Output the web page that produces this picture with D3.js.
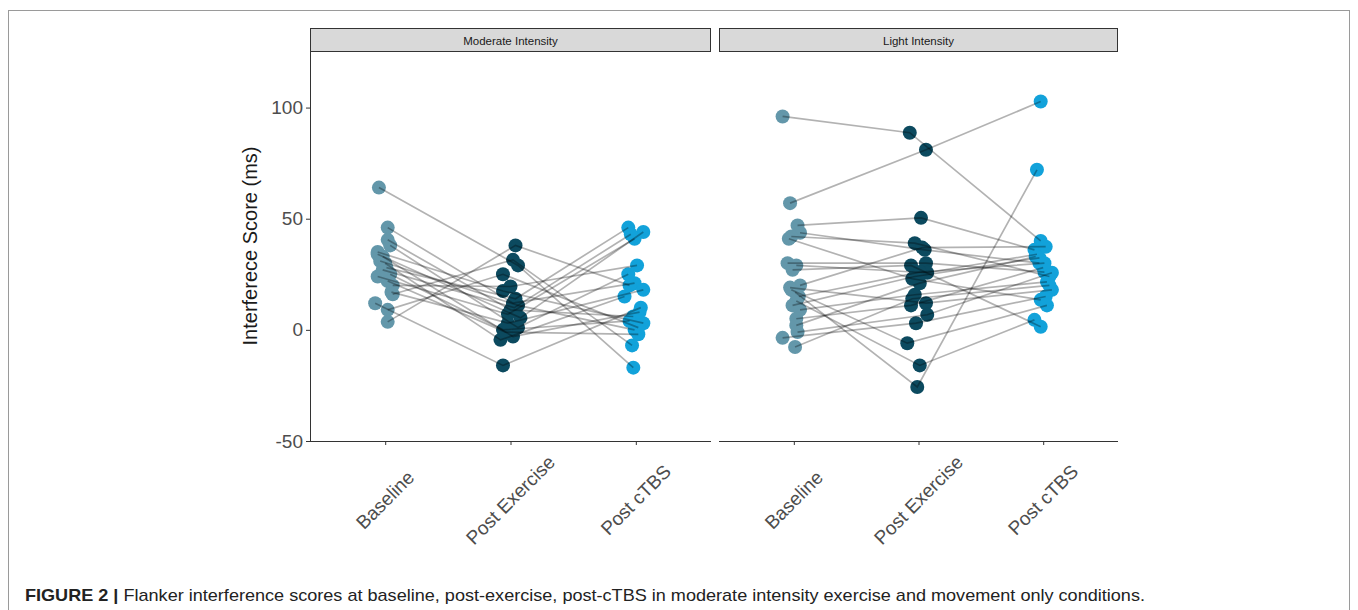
<!DOCTYPE html>
<html><head><meta charset="utf-8">
<script src="https://cdn.jsdelivr.net/npm/d3@7"></script>
<style>body{margin:0;background:#fff;}svg{display:block;}</style>
</head><body>
<svg id="chart" width="1358" height="610"></svg>
<script>
const panels = ["Moderate Intensity", "Light Intensity"];
const timepoints = ["Baseline", "Post Exercise", "Post cTBS"];
const yTicks = [-50, 0, 50, 100];

// Moderate intensity: one entry per participant
const modBaseline = [64, 46, 40.5, 38, 35, 34, 33, 31, 30, 28, 25, 24, 22, 20, 17, 16, 12, 9, 3.6, 27];
const modPostEx   = [29, 12, 9, 1, 17.5, 5.4, -3, 11, -4.5, 14, 0, 7, -1, 19.5, 3, 31.5, -16, 25, 38, 10];
const modPostTBS  = [-17, 21, 6, 25, 3, 44, 8, 0, 15, 46, 4, 41, -2, 29, 18, -7, 10, 1, 20, 43];
const modJitB = [-0.05,0.02,0.02,0.04,-0.06,-0.06,-0.02,-0.04,0,0.01,0.04,-0.06,0.02,0.06,0.05,0.06,-0.08,0.02,0.02,-0.02];
const modJitE = [0.06,0.02,0,0.06,-0.06,0.08,0.02,0.06,-0.08,0.04,-0.06,-0.02,-0.04,0,-0.02,0.02,-0.06,-0.06,0.04,0.03];
const modJitT = [-0.02,-0.01,-0.02,-0.06,0.06,0.06,0.03,-0.01,-0.09,-0.06,-0.05,-0.01,0.02,0.01,0.06,-0.03,0.04,0.02,-0.05,-0.04];

// Light intensity
const ligBaseline = [96, 57, 47, 43.7, 42, 41, 30, 29, 20, 19, 17, 13, 11, 9, 5, 2, -1, -3.6, -7.7, 18, 27, 15];
const ligPostEx   = [88.7, 81, 50.4, 36, 39, 23, 30, 25.7, 37, 12, -25.7, -16, 24, 15.8, 11, 21, 6.8, 3, 14, -6, 29, 26];
const ligPostTBS  = [40, 102.7, 36, 30, 24, 13.5, 26, 34, 37.4, 18, 72, 4.5, 32.4, 21.6, 28, 33, 25.7, 15, 20, 11, 1.4, 30];
const ligJitB = [-0.09,-0.03,0.03,0.05,-0.02,-0.04,-0.05,0.02,0.05,-0.03,0.01,0.02,-0.01,0.05,0.02,0.02,0.03,-0.09,0.01,-0.02,-0.01,0.04];
const ligJitE = [-0.07,0.06,0.02,0.05,-0.03,-0.05,0.06,0.07,0.03,0.06,-0.01,0.01,-0.03,-0.03,-0.06,0.01,0.07,-0.02,-0.05,-0.09,-0.06,0.01];
const ligJitT = [-0.02,-0.02,-0.07,-0.03,0.05,-0.02,0.01,-0.05,0.02,0.07,-0.05,-0.07,-0.03,0.03,0,-0.06,0.07,0.02,0.05,0.03,-0.02,0.01];

const pointColors = ["#6397aa", "#0c4a5f", "#12a2da"];

const panelData = [
  {vals:[modBaseline, modPostEx, modPostTBS], jit:[modJitB, modJitE, modJitT]},
  {vals:[ligBaseline, ligPostEx, ligPostTBS], jit:[ligJitB, ligJitE, ligJitT]}
];

const svg = d3.select("#chart");
svg.append("rect").attr("x",8.5).attr("y",10.5).attr("width",1341).attr("height",640)
  .attr("fill","none").attr("stroke","#9a9a9a").attr("stroke-width",1);

const plotTop = 52, plotBottom = 441;
const y = d3.scaleLinear().domain([-50, 125]).range([plotBottom, plotTop]);
const panelX = [[310, 711], [719, 1118]];
const FONT = "Liberation Sans, Arial, sans-serif";

panelData.forEach((pd, pi) => {
  const [x0, x1] = panelX[pi];
  const x = d3.scaleLinear().domain([0.4, 3.6]).range([x0, x1]);
  const g = svg.append("g");

  g.append("rect").attr("x", x0+0.5).attr("y", 28.5).attr("width", x1-x0-1).attr("height", 23)
    .attr("fill", "#d9d9d9").attr("stroke", "#333").attr("stroke-width", 1);
  g.append("text").attr("x", (x0+x1)/2).attr("y", 41).attr("text-anchor","middle")
    .attr("dominant-baseline","central").attr("font-family",FONT)
    .attr("font-size", 11.5).attr("fill","#1a1a1a").text(panels[pi]);

  const xAxis = d3.axisBottom(x).tickValues([1,2,3]).tickSize(4).tickFormat("");
  const xa = g.append("g").attr("transform", `translate(0,${plotBottom})`).call(xAxis);
  xa.select(".domain").attr("d", `M${x0},0.5H${x1}`).attr("stroke","#333");
  xa.selectAll(".tick line").attr("stroke","#333");
  timepoints.forEach((t, i) => {
    const cx = x(i+1), cy = 500;
    g.append("text").attr("transform", `translate(${cx},${cy}) rotate(-45)`)
      .attr("text-anchor","middle").attr("dominant-baseline","central")
      .attr("font-family",FONT).attr("font-size", 19)
      .attr("fill","#4d4d4d").text(t);
  });

  if (pi === 0) {
    const yAxis = d3.axisLeft(y).tickValues(yTicks).tickSize(4).tickPadding(3).tickFormat(d => String(d));
    const ya = g.append("g").attr("transform", `translate(${x0},0)`).call(yAxis);
    ya.select(".domain").attr("d", `M0.5,${plotTop}V${plotBottom}`).attr("stroke","#333");
    ya.selectAll(".tick line").attr("stroke","#333");
    ya.selectAll(".tick text").attr("font-family",FONT)
      .attr("font-size", 19).attr("fill","#4d4d4d");
  }

  const n = pd.vals[0].length;
  const subjects = d3.range(n).map(i => [0,1,2].map(k => ({
    x: x(k + 1 + pd.jit[k][i]), y: y(pd.vals[k][i]), k
  })));

  subjects.forEach(s => s.forEach(p => {
    g.append("circle").attr("cx", p.x).attr("cy", p.y).attr("r", 7).attr("fill", pointColors[p.k]);
  }));
  const line = d3.line().x(d => d.x).y(d => d.y);
  subjects.forEach(s => {
    g.append("path").attr("d", line(s)).attr("fill","none")
      .attr("stroke","rgba(0,0,0,0.3)").attr("stroke-width",1.7);
  });
});

svg.append("text").attr("transform","translate(250,246) rotate(-90)")
  .attr("text-anchor","middle").attr("dominant-baseline","central")
  .attr("font-family",FONT).attr("font-size",20)
  .attr("fill","#1a1a1a").text("Interferece Score (ms)");

const cap = svg.append("text").attr("x",25).attr("y",601)
  .attr("font-family","Liberation Sans Narrow, Arial Narrow, Liberation Sans, sans-serif")
  .attr("font-size",17).attr("fill","#222");
cap.append("tspan").attr("font-weight","bold").text("FIGURE 2 | ");
cap.append("tspan").text("Flanker interference scores at baseline, post-exercise, post-cTBS in moderate intensity exercise and movement only conditions.");
const w = cap.node().getComputedTextLength();
if (Math.abs(w - 1120) > 10) cap.attr("textLength", 1120).attr("lengthAdjust","spacingAndGlyphs");
</script>
</body></html>
